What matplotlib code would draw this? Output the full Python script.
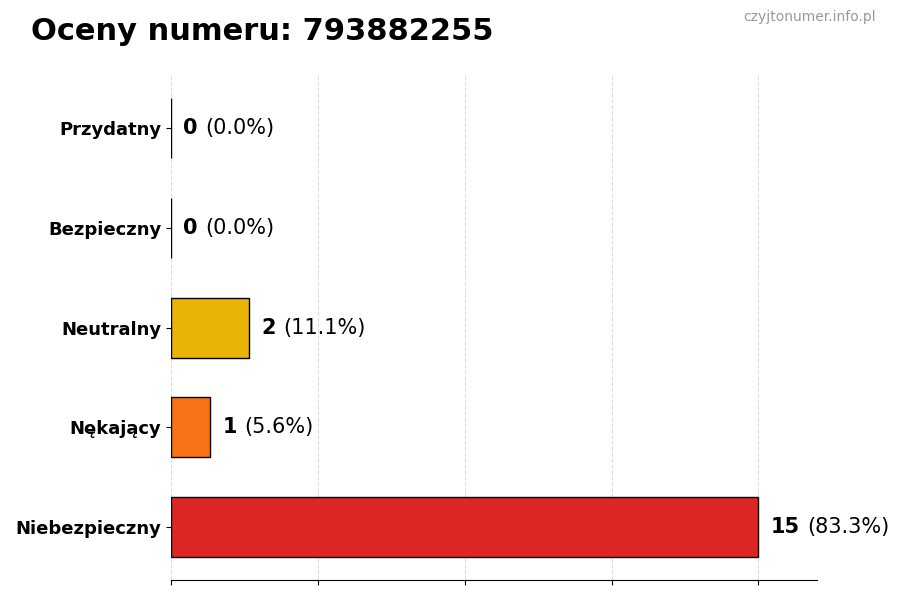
import matplotlib
matplotlib.use("Agg")
import matplotlib.pyplot as plt

# -------------------------
# DATA
# -------------------------
categories = ["Niebezpieczny", "Nękający", "Neutralny", "Bezpieczny", "Przydatny"]
counts = [15, 1, 2, 0, 0]
colors = ["#dc2626", "#f97316", "#eab308", "#22c55e", "#3b82f6"]
number = "793882255"

total = sum(counts)

fig = plt.figure(figsize=(9, 6), dpi=100)
ax = fig.add_axes([0.19, 0.033, 0.718, 0.842])

bars = ax.barh(range(len(categories)), counts, height=0.6, color=colors,
               edgecolor="black", linewidth=1)

ax.set_yticks(range(len(categories)))
ax.set_yticklabels(categories, fontsize=13, fontweight="bold")
ax.set_xlim(0, max(counts) * 1.1)
ax.set_xticks([max(counts) * i / 4 for i in range(5)])
ax.set_xticklabels([])
ax.grid(axis="x", linestyle="--", color="#dddddd", linewidth=0.8)
ax.set_axisbelow(True)
for s in ["top", "right", "left"]:
    ax.spines[s].set_visible(False)

# value labels: bold count + normal percentage
fig.canvas.draw()
renderer = fig.canvas.get_renderer()
for i, c in enumerate(counts):
    pct = c / total * 100
    t = ax.annotate(str(c), xy=(c, i), xytext=(9, 0), textcoords="offset points",
                    ha="left", va="center", fontsize=15, fontweight="bold")
    bb = t.get_window_extent(renderer=renderer)
    x_data = ax.transData.inverted().transform((bb.x1, 0))[0]
    ax.annotate(f"({pct:.1f}%)", xy=(x_data, i), xytext=(5, 0),
                textcoords="offset points", ha="left", va="center", fontsize=15,
                annotation_clip=False)

fig.text(0.034, 0.948, f"Oceny numeru: {number}", fontsize=22, fontweight="bold",
         ha="left", va="center")
fig.text(0.973, 0.971, "czyjtonumer.info.pl", fontsize=10, color="#999999",
         ha="right", va="center")

fig.savefig("out.png", dpi=100)
